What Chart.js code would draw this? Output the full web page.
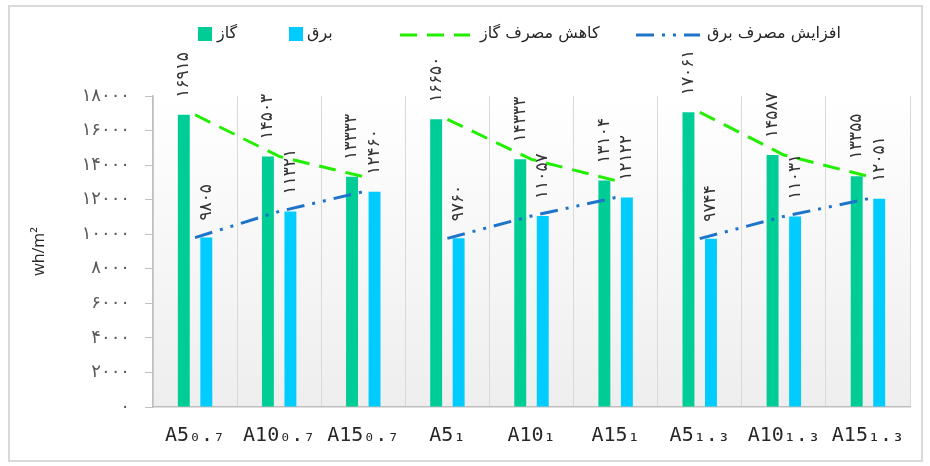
<!DOCTYPE html>
<html><head><meta charset="utf-8">
<script src="https://cdn.jsdelivr.net/npm/chart.js@4/dist/chart.umd.min.js"></script>
<style>html,body{margin:0;padding:0;background:#fff;}#wrap{position:relative;width:930px;height:466px;}</style>
</head><body><div id="wrap"><canvas id="c" width="930" height="466"></canvas></div>
<script>
// ---- data ----
const categories = ['A5₀.₇','A10₀.₇','A15₀.₇','A5₁','A10₁','A15₁','A5₁.₃','A10₁.₃','A15₁.₃'];
const gasValues  = [16915,14503,13333,16650,14333,13104,17061,14587,13355];
const elecValues = [9805,11321,12460,9760,11057,12122,9744,11031,12051];
const groupEndIndices = [2,5];
const seriesNames = ['گاز','برق','کاهش مصرف گاز','افزایش مصرف برق'];
const yTickValues = [0,2000,4000,6000,8000,10000,12000,14000,16000,18000];
const yAxisTitle = 'wh/m²';

// ---- helpers ----
const faDigits = '۰۱۲۳۴۵۶۷۸۹';
const toFa = v => String(v).replace(/\d/g, d => faDigits[d]);
const GAS = '#00CC96', ELEC = '#00CCFF', GLINE = '#22EE00', ELINE = '#1E74C8';
const gapSeg = col => ctx => groupEndIndices.includes(ctx.p0DataIndex) ? 'rgba(0,0,0,0)' : col;

const bgPlugin = {
  id: 'bg',
  beforeDraw(chart) {
    const {ctx, chartArea: a} = chart;
    ctx.save();
    ctx.fillStyle = '#fff';
    ctx.fillRect(0, 0, chart.width, chart.height);
    ctx.strokeStyle = '#d9d9d9'; ctx.lineWidth = 2;
    ctx.strokeRect(9, 6, 913, 455);
    const g = ctx.createLinearGradient(0, a.top, 0, a.bottom);
    g.addColorStop(0, '#ffffff'); g.addColorStop(1, '#eeeeee');
    ctx.fillStyle = g;
    ctx.fillRect(a.left, a.top, a.right - a.left, a.bottom - a.top);
    ctx.restore();
  }
};

const valueLabelPlugin = {
  id: 'vlabels',
  afterDatasetsDraw(chart) {
    const ctx = chart.ctx;
    [0, 1].forEach(di => {
      const meta = chart.getDatasetMeta(di);
      const data = chart.data.datasets[di].data;
      meta.data.forEach((el, i) => {
        ctx.save();
        ctx.translate(el.x, el.y - 17);
        ctx.rotate(-Math.PI / 2);
        ctx.font = '17px "DejaVu Sans"';
        ctx.fillStyle = '#333333';
        ctx.textAlign = 'left';
        ctx.textBaseline = 'middle';
        ctx.fillText(toFa(data[i]), 0, 0);
        ctx.restore();
      });
    });
  }
};

const legendPlugin = {
  id: 'customLegend',
  afterDraw(chart) {
    const ctx = chart.ctx;
    const ds = chart.data.datasets;
    const items = [
      {i: 0, kind: 'box', x0: 198, x1: 212, tx: 217},
      {i: 1, kind: 'box', x0: 289, x1: 303, tx: 307},
      {i: 2, kind: 'line', x0: 400, x1: 470, tx: 480},
      {i: 3, kind: 'line', x0: 636, x1: 700, tx: 707}
    ];
    const cy = 34;
    ctx.save();
    items.forEach(it => {
      const d = ds[it.i];
      if (it.kind === 'box') {
        ctx.fillStyle = d.backgroundColor;
        ctx.fillRect(it.x0, cy - 7, it.x1 - it.x0, 14);
      } else {
        ctx.strokeStyle = d.borderColor;
        ctx.lineWidth = d.borderWidth;
        ctx.setLineDash(d.borderDash);
        ctx.beginPath();
        ctx.moveTo(it.x0, cy + 1); ctx.lineTo(it.x1, cy + 1);
        ctx.stroke();
        ctx.setLineDash([]);
      }
      ctx.font = '16px "DejaVu Sans"';
      ctx.fillStyle = '#262626';
      ctx.textAlign = 'left';
      ctx.textBaseline = 'middle';
      ctx.fillText(d.label, it.tx, cy);
    });
    ctx.restore();
  }
};

new Chart(document.getElementById('c'), {
  data: {
    labels: categories,
    datasets: [
      {type: 'bar', label: seriesNames[0], data: gasValues, backgroundColor: GAS, order: 2,
       categoryPercentage: 0.535, barPercentage: 0.53},
      {type: 'bar', label: seriesNames[1], data: elecValues, backgroundColor: ELEC, order: 2,
       categoryPercentage: 0.535, barPercentage: 0.53},
      {type: 'line', label: seriesNames[2], data: gasValues, borderColor: GLINE, borderWidth: 3,
       borderDash: [17, 10], pointRadius: 0, fill: false, order: 0,
       segment: {borderColor: gapSeg(GLINE)}},
      {type: 'line', label: seriesNames[3], data: elecValues, borderColor: ELINE, borderWidth: 3,
       borderDash: [18, 8, 3, 8, 3, 8], pointRadius: 0, fill: false, order: 0,
       segment: {borderColor: gapSeg(ELINE)}}
    ]
  },
  options: {
    responsive: false,
    animation: false,
    devicePixelRatio: 1,
    layout: {padding: {top: 96, right: 20, left: 0, bottom: 0}},
    plugins: {legend: {display: false}, tooltip: {enabled: false}},
    scales: {
      x: {
        grid: {display: true, color: '#d9d9d9', drawTicks: false, offset: true},
        border: {display: true, color: '#bfbfbf', width: 1.5},
        ticks: {font: {family: '"DejaVu Sans Mono"', size: 20}, color: '#262626', padding: 17, maxRotation: 0, autoSkip: false},
        afterFit: s => { s.height = 59; }
      },
      y: {
        min: yTickValues[0], max: yTickValues[yTickValues.length - 1],
        afterBuildTicks: s => { s.ticks = yTickValues.map(v => ({value: v})); },
        ticks: {callback: v => toFa(v), font: {family: '"DejaVu Sans"', size: 18}, color: '#595959', padding: 15},
        grid: {drawOnChartArea: false, drawTicks: true, tickLength: 8, color: '#bfbfbf'},
        border: {display: true, color: '#bfbfbf', width: 1.5},
        title: {display: true, text: yAxisTitle, font: {family: '"Open Sans"', size: 16}, color: '#262626', padding: {top: 30, bottom: 0}},
        afterFit: s => { s.width = 153; }
      }
    }
  },
  plugins: [bgPlugin, valueLabelPlugin, legendPlugin]
});
</script></body></html>
